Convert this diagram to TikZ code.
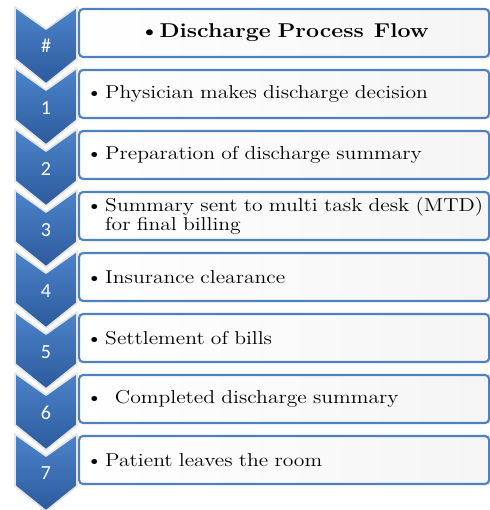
\documentclass[tikz,border=0pt]{standalone}
\usepackage{fontspec}
\usepackage{tikz}
\newfontfamily\numfont{Carlito}
\newfontfamily\stepfont{Latin Modern Roman}[FakeStretch=1.16]

\definecolor{chevtop}{RGB}{76,132,202}
\definecolor{chevbot}{RGB}{44,90,156}
\definecolor{boxblue}{RGB}{79,129,189}

\begin{document}
\begin{tikzpicture}[x=0.75pt, y=0.75pt,
    chev/.style={top color=chevtop, bottom color=chevbot, draw=black!10, line width=1.3pt, line join=round},
    stepbox/.style={draw=boxblue, line width=1.6pt, rounded corners=3pt, left color=white, right color=black!4,
      anchor=west, minimum height=36pt, text width=297pt, inner xsep=5.25pt, align=left,
      font=\stepfont\fontsize{14}{12.5}\selectfont},
    stepnum/.style={text=white, inner sep=0pt, font=\numfont\fontsize{15}{15}\selectfont}]
      \useasboundingbox (0,0) rectangle (489,-510);
      % step boxes
      \node at (78,-33)[stepbox,align=center,font=\stepfont\bfseries\fontsize{15}{15}\selectfont] (s0){\textbullet Discharge Process\, Flow};
      \node at (78,-94)[stepbox] (s1){\textbullet\hspace{2pt}Physician makes discharge decision};
      \node at (78,-155)[stepbox] (s2){\textbullet\hspace{2pt}Preparation of discharge summary};
      \node at (78,-216)[stepbox] (s3){\mbox{\textbullet\hspace{2pt}Summary sent to multi task desk (MTD)}\\\hphantom{\textbullet\hspace{2pt}}for final billing};
      \node at (78,-277)[stepbox] (s4){\textbullet\hspace{2pt}Insurance clearance};
      \node at (78,-338)[stepbox] (s5){\textbullet\hspace{2pt}Settlement of bills};
      \node at (78,-399)[stepbox] (s6){\textbullet\ \ Completed discharge summary};
      \node at (78,-460)[stepbox] (s7){\textbullet\hspace{2pt}Patient leaves the room};
      % chevrons, lowest first so each tip lies over the next one
      \path[chev] (15,-434) -- (46,-456) -- (77,-434) -- (77,-486) -- (46,-511) -- (15,-486) -- cycle;
      \path[chev] (15,-373) -- (46,-395) -- (77,-373) -- (77,-425) -- (46,-450) -- (15,-425) -- cycle;
      \path[chev] (15,-312) -- (46,-334) -- (77,-312) -- (77,-364) -- (46,-389) -- (15,-364) -- cycle;
      \path[chev] (15,-251) -- (46,-273) -- (77,-251) -- (77,-303) -- (46,-328) -- (15,-303) -- cycle;
      \path[chev] (15,-190) -- (46,-212) -- (77,-190) -- (77,-242) -- (46,-267) -- (15,-242) -- cycle;
      \path[chev] (15,-129) -- (46,-151) -- (77,-129) -- (77,-181) -- (46,-206) -- (15,-181) -- cycle;
      \path[chev] (15,-68) -- (46,-90) -- (77,-68) -- (77,-120) -- (46,-145) -- (15,-120) -- cycle;
      \path[chev] (15,-7) -- (46,-29) -- (77,-7) -- (77,-59) -- (46,-84) -- (15,-59) -- cycle;
      % step numbers
      \node at (46,-46)[stepnum] (n0){\#};
      \node at (46,-108)[stepnum] (n1){1};
      \node at (46,-169)[stepnum] (n2){2};
      \node at (46,-230)[stepnum] (n3){3};
      \node at (46,-291)[stepnum] (n4){4};
      \node at (46,-352)[stepnum] (n5){5};
      \node at (46,-413)[stepnum] (n6){6};
      \node at (46,-473)[stepnum] (n7){7};
\end{tikzpicture}
\end{document}
